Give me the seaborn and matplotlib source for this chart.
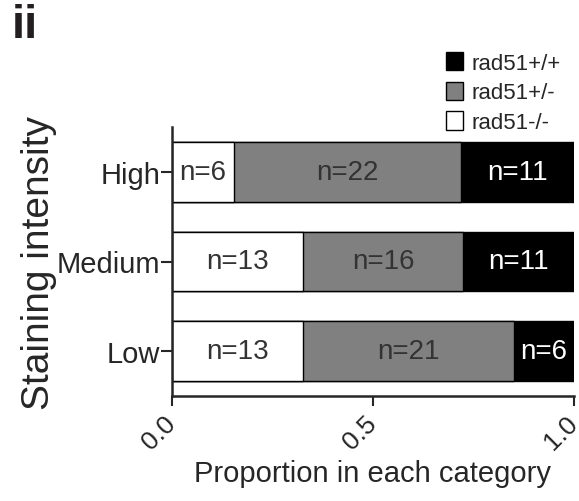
import matplotlib
matplotlib.use("Agg")
import matplotlib.pyplot as plt
from matplotlib.patches import Patch
import seaborn as sns
import numpy as np
import pandas as pd

categories = ["High", "Medium", "Low"]
n_hom = [6, 13, 13]      # rad51-/-
n_het = [22, 16, 21]     # rad51+/-
n_wt = [11, 11, 6]       # rad51+/+
series_names = ["rad51+/+", "rad51+/-", "rad51-/-"]
x_ticks = [0.0, 0.5, 1.0]

sns.set_style("ticks")
plt.rcParams["font.family"] = ["Liberation Sans", "DejaVu Sans"]

hom = np.array(n_hom, float)
het = np.array(n_het, float)
wt = np.array(n_wt, float)
tot = hom + het + wt
p_hom = hom / tot
p_het = het / tot
p_wt = wt / tot
c1 = p_hom
c2 = p_hom + p_het
c3 = c2 + p_wt

df = pd.DataFrame({"cat": categories, "c1": c1, "c2": c2, "c3": c3})

fig = plt.figure(figsize=(5.79, 5.02), dpi=100)
ax = fig.add_axes([172/579, 1-397/502, (574-172)/579, (397-128)/502])

common = dict(y="cat", orient="h", width=2/3, edgecolor="black",
              linewidth=1.0, saturation=1, ax=ax)
sns.barplot(data=df, x="c3", color="black", **common)
sns.barplot(data=df, x="c2", color="#808080", **common)
sns.barplot(data=df, x="c1", color="white", **common)

for i in range(len(categories)):
    ax.text(c1[i] / 2, i, f"n={n_hom[i]}", ha="center", va="center",
            fontsize=20, color="#333333")
    ax.text(c1[i] + p_het[i] / 2, i, f"n={n_het[i]}", ha="center", va="center",
            fontsize=20, color="#333333")
    ax.text(c2[i] + p_wt[i] / 2, i, f"n={n_wt[i]}", ha="center", va="center",
            fontsize=20, color="white")

ax.set_xlim(0, 1.0)
ax.set_ylim(len(categories) - 0.5, -0.5)
ax.set_xticks(x_ticks)
ax.set_xticklabels([f"{v:.1f}" for v in x_ticks], rotation=45, ha="right",
                   va="center", rotation_mode="anchor", fontsize=19)
ax.tick_params(axis="y", labelsize=21, length=8, width=1.5, pad=0.5)
ax.tick_params(axis="x", length=7, width=1.5, pad=10)
sns.despine(ax=ax)
for s in ["left", "bottom"]:
    ax.spines[s].set_linewidth(1.8)

ax.set_xlabel("Proportion in each category", fontsize=21, labelpad=4)
ax.set_ylabel("Staining intensity", fontsize=28, labelpad=0)

handles = [Patch(facecolor="black", edgecolor="black", lw=1),
           Patch(facecolor="#808080", edgecolor="black", lw=1),
           Patch(facecolor="white", edgecolor="black", lw=1)]
fig.legend(handles, series_names, loc="upper left",
           bbox_to_anchor=(437/579, 1-44/502), frameon=False, fontsize=16,
           handlelength=0.77, handleheight=0.9, handletextpad=0.4,
           labelspacing=0.35, borderaxespad=0)

fig.text(12/579, 1-4/502, "ii", fontsize=34, fontweight="bold", ha="left",
         va="top", color="#231f20")

fig.savefig("out.png", dpi=100)
